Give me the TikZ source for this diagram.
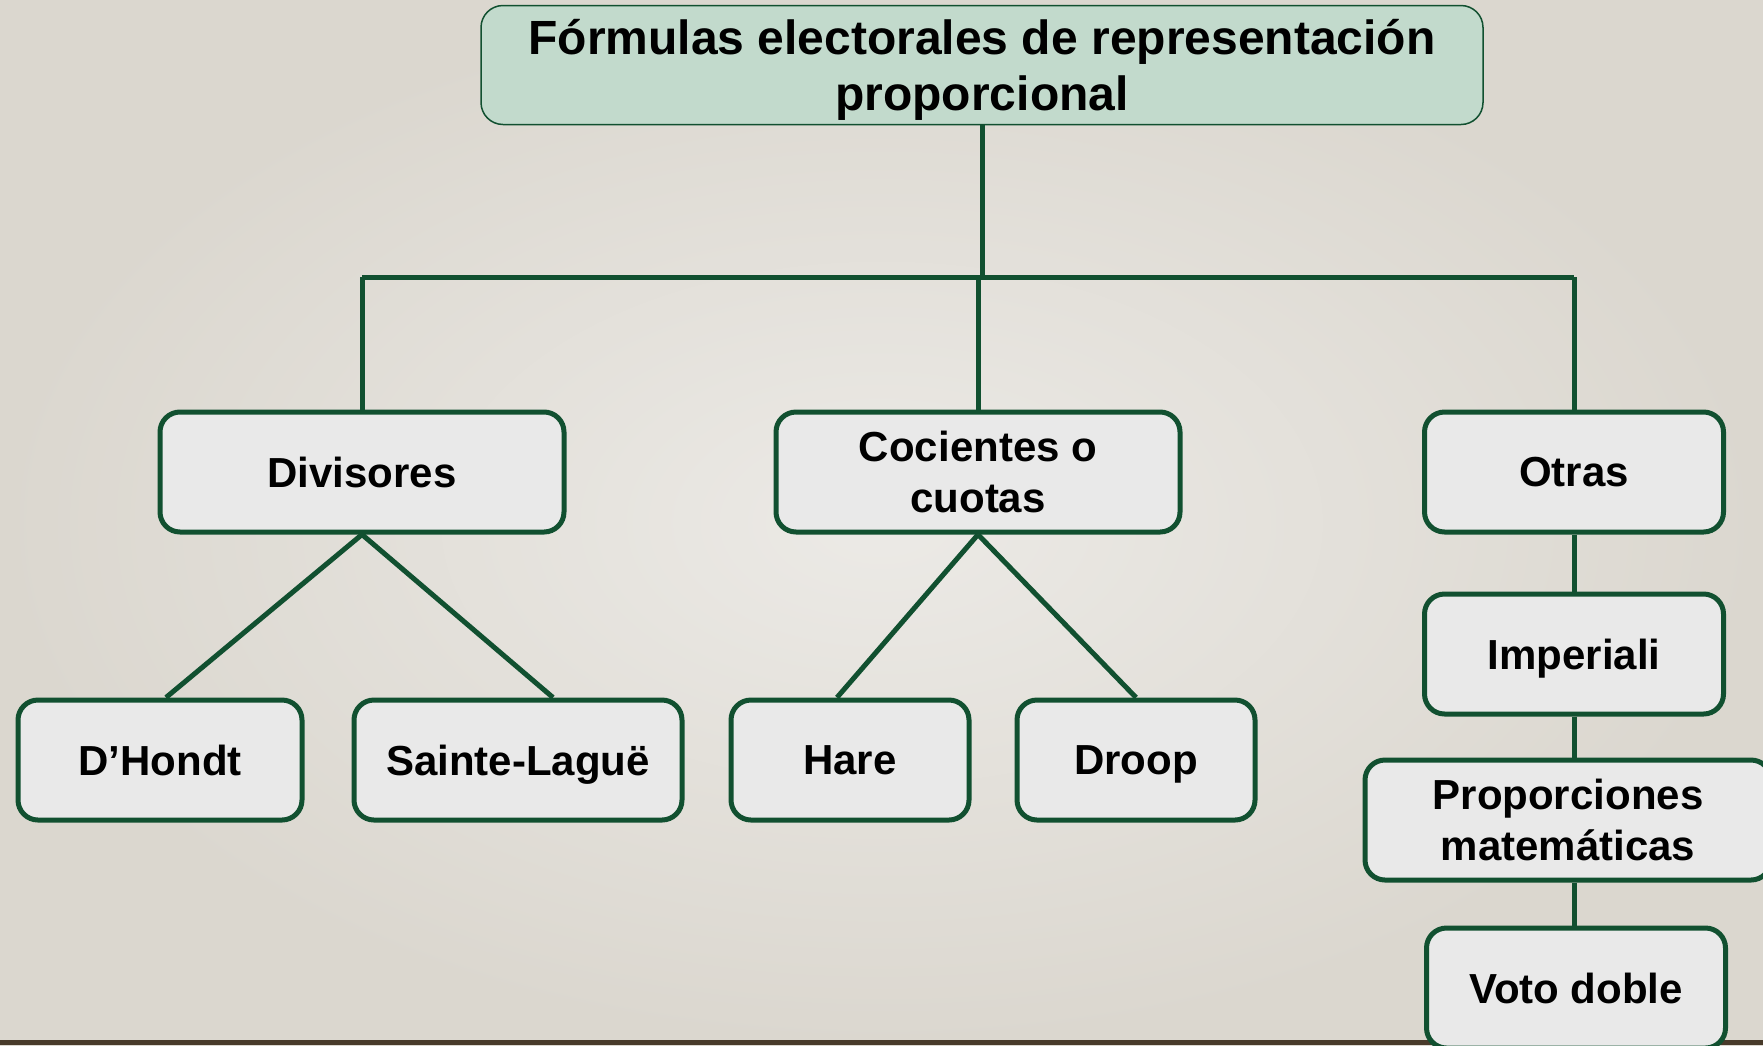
\documentclass[tikz,border=0pt]{standalone}
\usepackage{fontspec}
\setmainfont{Liberation Sans}
\usetikzlibrary{calc}
\definecolor{verde}{RGB}{17,80,48}
\definecolor{verdeclaro}{RGB}{194,218,204}
\definecolor{gris}{RGB}{233,233,233}
\definecolor{fondo}{RGB}{236,234,230}
\definecolor{fondoborde}{RGB}{219,215,207}
\definecolor{madera}{RGB}{72,58,42}

\tikzset{
    caja/.style={draw=verde, line width=5pt, fill=gris, rounded corners=20pt,
        align=center, inner sep=0pt, minimum height=120pt, text depth=0pt,
        font=\fontsize{42}{51}\selectfont\bfseries},
    titulo/.style={draw=verde, line width=1.5pt, fill=verdeclaro, rounded corners=22pt,
        align=center, inner sep=0pt, minimum width=1002pt, minimum height=119pt,
        text depth=0pt, font=\fontsize{48}{56}\selectfont\bfseries},
    rama/.style={draw=verde, line width=5pt},
}

\begin{document}
\begin{tikzpicture}[x=1pt, y=-1pt]
    \useasboundingbox (0,0) rectangle (1763,1045);
    \clip (0,0) rectangle (1763,1045);
    \shade[inner color=fondo, outer color=fondoborde] (0,0) rectangle (1763,1045);
    \fill[madera] (0,1040) rectangle (1763,1045);

    \path (362,277)  coordinate (L);
    \path (1574,277) coordinate (R);

    \node[titulo] (F) at (982,65) {Fórmulas electorales de representación\\proporcional};

    \node[caja, minimum width=404pt] (Div) at (362,472) {Divisores};
    \node[caja, minimum width=404pt] (Coc) at (978,472) {Cocientes o\\cuotas};
    \node[caja, minimum width=299pt] (Otr) at (1574,472) {Otras};

    \node[caja, minimum width=284pt] (DH)  at (160,760)  {D’Hondt};
    \node[caja, minimum width=328pt] (SL)  at (518,760)  {Sainte-Laguë};
    \node[caja, minimum width=238pt] (Ha)  at (850,760)  {Hare};
    \node[caja, minimum width=238pt] (Dr)  at (1136,760) {Droop};

    \node[caja, minimum width=299pt] (Imp) at (1574,654) {Imperiali};
    \node[caja, minimum width=406pt] (Pro) at (1568,820) {Proporciones\\matemáticas};
    \node[caja, minimum width=299pt] (Vot) at (1576,988) {Voto doble};

    \draw[rama] (F.south) -- (F.south |- L);
    \draw[rama] (L) -- (R);
    \draw[rama] (L) -- (Div.north);
    \draw[rama] (Coc.north |- L) -- (Coc.north);
    \draw[rama] (R) -- (Otr.north);

    \draw[rama] (Div.south) -- ([xshift=6pt]DH.north);
    \draw[rama] (Div.south) -- ([xshift=35pt]SL.north);
    \draw[rama] (Coc.south) -- ([xshift=-13pt]Ha.north);
    \draw[rama] (Coc.south) -- (Dr.north);

    \draw[rama] (Otr.south) -- (Imp.north);
    \draw[rama] (Imp.south) -- (Imp.south |- Pro.north);
    \draw[rama] (Imp.south |- Pro.south) -- (Imp.south |- Vot.north);
\end{tikzpicture}
\end{document}
